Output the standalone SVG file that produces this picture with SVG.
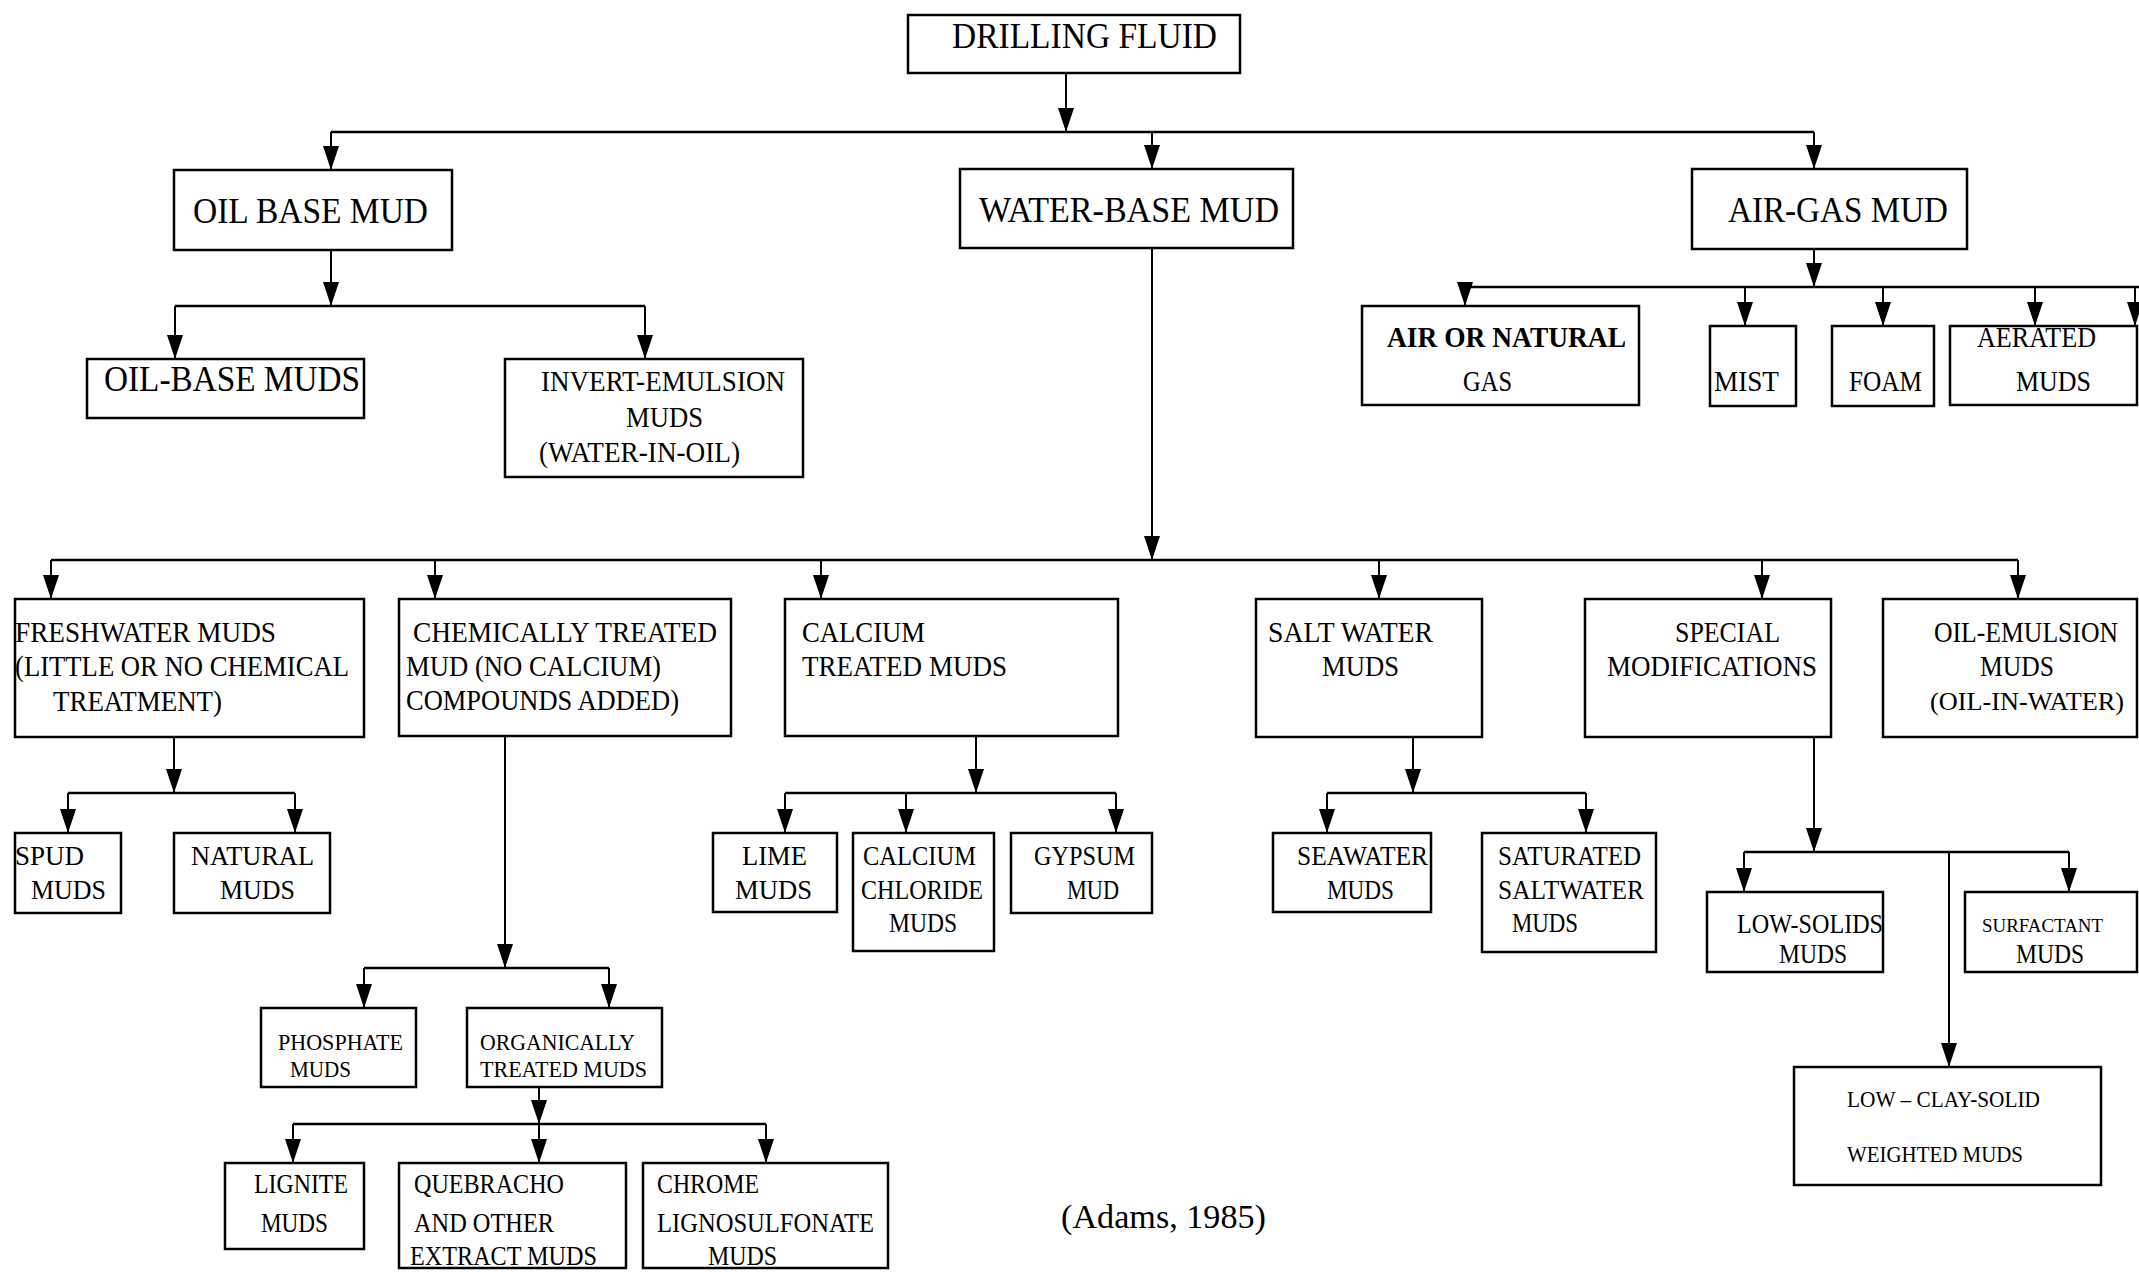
<svg xmlns="http://www.w3.org/2000/svg" width="2139" height="1272" viewBox="0 0 2139 1272">
<defs>
<marker id="ah" markerUnits="userSpaceOnUse" markerWidth="24" markerHeight="16" viewBox="0 0 24 16" refX="24" refY="8" orient="auto">
<path d="M0,0 L24,8 L0,16 z" fill="#000"/>
</marker>
</defs>
<style>
rect{fill:#fff;stroke:#000;stroke-width:2.5}
text{font-family:"Liberation Serif","Times New Roman",serif;fill:#000}
.a{stroke:#000;stroke-width:2;fill:none;marker-end:url(#ah)}
.b{stroke:#000;stroke-width:2.5;fill:none}
.f35{font-size:35px}.f36{font-size:36px}.f29{font-size:29px}.f27{font-size:27px}.f24{font-size:24px}.f19{font-size:19px}.f34{font-size:34px}
</style>
<rect width="2139" height="1272" style="fill:#fff;stroke:none"/>
<g id="connectors">
<path class="a" d="M1066,73 V132"/>
<path class="b" d="M331,132 H1814"/>
<path class="a" d="M331,132 V170"/>
<path class="a" d="M1152,132 V169"/>
<path class="a" d="M1814,132 V169"/>
<path class="a" d="M331,250 V306"/>
<path class="b" d="M175,306 H645"/>
<path class="a" d="M175,306 V359"/>
<path class="a" d="M645,306 V359"/>
<path class="a" d="M1152,248 V560"/>
<path class="b" d="M51,560 H2018"/>
<path class="a" d="M51,560 V599"/>
<path class="a" d="M435,560 V599"/>
<path class="a" d="M821,560 V599"/>
<path class="a" d="M1379,560 V599"/>
<path class="a" d="M1762,560 V599"/>
<path class="a" d="M2018,560 V599"/>
<path class="a" d="M1814,249 V287"/>
<path class="b" d="M1459,287 H2139"/>
<path class="a" d="M1465,287 V306"/>
<path class="a" d="M1745,287 V326"/>
<path class="a" d="M1883,287 V326"/>
<path class="a" d="M2035,287 V326"/>
<path class="a" d="M2135,287 V326"/>
<path class="a" d="M174,737 V793"/>
<path class="b" d="M68,793 H295"/>
<path class="a" d="M68,793 V833"/>
<path class="a" d="M295,793 V833"/>
<path class="a" d="M505,736 V968"/>
<path class="b" d="M364,968 H609"/>
<path class="a" d="M364,968 V1008"/>
<path class="a" d="M609,968 V1008"/>
<path class="a" d="M539,1087 V1124"/>
<path class="b" d="M293,1124 H766"/>
<path class="a" d="M293,1124 V1163"/>
<path class="a" d="M539,1124 V1163"/>
<path class="a" d="M766,1124 V1163"/>
<path class="a" d="M976,736 V793"/>
<path class="b" d="M785,793 H1116"/>
<path class="a" d="M785,793 V833"/>
<path class="a" d="M906,793 V833"/>
<path class="a" d="M1116,793 V833"/>
<path class="a" d="M1413,737 V793"/>
<path class="b" d="M1327,793 H1586"/>
<path class="a" d="M1327,793 V833"/>
<path class="a" d="M1586,793 V833"/>
<path class="a" d="M1814,737 V852"/>
<path class="b" d="M1744,852 H2069"/>
<path class="a" d="M1744,852 V892"/>
<path class="a" d="M2069,852 V892"/>
<path class="a" d="M1949,852 V1067"/>
</g>
<g id="drilling-fluid"><rect x="908" y="15" width="332" height="58"/><text class="f35" x="952" y="48" textLength="265" lengthAdjust="spacingAndGlyphs">DRILLING FLUID</text></g>
<g id="oil-base-mud"><rect x="174" y="170" width="278" height="80"/><text class="f35" x="193" y="223" textLength="235" lengthAdjust="spacingAndGlyphs">OIL BASE MUD</text></g>
<g id="water-base-mud"><rect x="960" y="169" width="333" height="79"/><text class="f35" x="979" y="222" textLength="300" lengthAdjust="spacingAndGlyphs">WATER-BASE MUD</text></g>
<g id="air-gas-mud"><rect x="1692" y="169" width="275" height="80"/><text class="f35" x="1728" y="222" textLength="220" lengthAdjust="spacingAndGlyphs">AIR-GAS MUD</text></g>
<g id="oil-base-muds"><rect x="87" y="359" width="277" height="59"/><text class="f36" x="104" y="391" textLength="256" lengthAdjust="spacingAndGlyphs">OIL-BASE MUDS</text></g>
<g id="invert-emulsion"><rect x="505" y="359" width="298" height="118"/><text class="f29" x="541" y="391" textLength="244" lengthAdjust="spacingAndGlyphs">INVERT-EMULSION</text><text class="f29" x="626" y="427" textLength="77" lengthAdjust="spacingAndGlyphs">MUDS</text><text class="f29" x="539" y="462" textLength="201" lengthAdjust="spacingAndGlyphs">(WATER-IN-OIL)</text></g>
<g id="air-or-natural-gas"><rect x="1362" y="306" width="277" height="99"/><text class="f29" x="1387" y="347" textLength="239" lengthAdjust="spacingAndGlyphs" style="font-weight:bold">AIR OR NATURAL</text><text class="f29" x="1463" y="391" textLength="49" lengthAdjust="spacingAndGlyphs">GAS</text></g>
<g id="mist"><rect x="1710" y="326" width="86" height="80"/><text class="f29" x="1714" y="391" textLength="65" lengthAdjust="spacingAndGlyphs">MIST</text></g>
<g id="foam"><rect x="1832" y="326" width="102" height="80"/><text class="f29" x="1849" y="391" textLength="73" lengthAdjust="spacingAndGlyphs">FOAM</text></g>
<g id="aerated-muds"><rect x="1950" y="326" width="187" height="79"/><text class="f29" x="1977" y="347" textLength="119" lengthAdjust="spacingAndGlyphs">AERATED</text><text class="f29" x="2016" y="391" textLength="75" lengthAdjust="spacingAndGlyphs">MUDS</text></g>
<g id="freshwater-muds"><rect x="15" y="599" width="349" height="138"/><text class="f29" x="15" y="642" textLength="261" lengthAdjust="spacingAndGlyphs">FRESHWATER MUDS</text><text class="f29" x="15" y="676" textLength="334" lengthAdjust="spacingAndGlyphs">(LITTLE OR NO CHEMICAL</text><text class="f29" x="53" y="711" textLength="169" lengthAdjust="spacingAndGlyphs">TREATMENT)</text></g>
<g id="chemically-treated"><rect x="399" y="599" width="332" height="137"/><text class="f29" x="413" y="642" textLength="304" lengthAdjust="spacingAndGlyphs">CHEMICALLY TREATED</text><text class="f29" x="406" y="676" textLength="255" lengthAdjust="spacingAndGlyphs">MUD (NO CALCIUM)</text><text class="f29" x="406" y="710" textLength="273" lengthAdjust="spacingAndGlyphs">COMPOUNDS ADDED)</text></g>
<g id="calcium-treated"><rect x="785" y="599" width="333" height="137"/><text class="f29" x="802" y="642" textLength="123" lengthAdjust="spacingAndGlyphs">CALCIUM</text><text class="f29" x="802" y="676" textLength="205" lengthAdjust="spacingAndGlyphs">TREATED MUDS</text></g>
<g id="salt-water"><rect x="1256" y="599" width="226" height="138"/><text class="f29" x="1268" y="642" textLength="165" lengthAdjust="spacingAndGlyphs">SALT WATER</text><text class="f29" x="1322" y="676" textLength="77" lengthAdjust="spacingAndGlyphs">MUDS</text></g>
<g id="special-modifications"><rect x="1585" y="599" width="246" height="138"/><text class="f29" x="1675" y="642" textLength="105" lengthAdjust="spacingAndGlyphs">SPECIAL</text><text class="f29" x="1607" y="676" textLength="210" lengthAdjust="spacingAndGlyphs">MODIFICATIONS</text></g>
<g id="oil-emulsion"><rect x="1883" y="599" width="254" height="138"/><text class="f29" x="1934" y="642" textLength="184" lengthAdjust="spacingAndGlyphs">OIL-EMULSION</text><text class="f29" x="1980" y="676" textLength="74" lengthAdjust="spacingAndGlyphs">MUDS</text><text x="1930" y="710" textLength="194" lengthAdjust="spacingAndGlyphs" style="font-size:25px">(OIL-IN-WATER)</text></g>
<g id="spud-muds"><rect x="15" y="833" width="106" height="80"/><text class="f27" x="15" y="865" textLength="69" lengthAdjust="spacingAndGlyphs">SPUD</text><text class="f27" x="31" y="899" textLength="75" lengthAdjust="spacingAndGlyphs">MUDS</text></g>
<g id="natural-muds"><rect x="174" y="833" width="156" height="80"/><text class="f27" x="191" y="865" textLength="123" lengthAdjust="spacingAndGlyphs">NATURAL</text><text class="f27" x="220" y="899" textLength="75" lengthAdjust="spacingAndGlyphs">MUDS</text></g>
<g id="lime-muds"><rect x="713" y="833" width="124" height="79"/><text class="f27" x="742" y="865" textLength="65" lengthAdjust="spacingAndGlyphs">LIME</text><text class="f27" x="735" y="899" textLength="77" lengthAdjust="spacingAndGlyphs">MUDS</text></g>
<g id="calcium-chloride-muds"><rect x="853" y="833" width="141" height="118"/><text class="f27" x="863" y="865" textLength="113" lengthAdjust="spacingAndGlyphs">CALCIUM</text><text class="f27" x="861" y="899" textLength="122" lengthAdjust="spacingAndGlyphs">CHLORIDE</text><text class="f27" x="889" y="932" textLength="68" lengthAdjust="spacingAndGlyphs">MUDS</text></g>
<g id="gypsum-mud"><rect x="1011" y="833" width="141" height="80"/><text class="f27" x="1034" y="865" textLength="101" lengthAdjust="spacingAndGlyphs">GYPSUM</text><text class="f27" x="1067" y="899" textLength="52" lengthAdjust="spacingAndGlyphs">MUD</text></g>
<g id="seawater-muds"><rect x="1273" y="833" width="158" height="79"/><text class="f27" x="1297" y="865" textLength="131" lengthAdjust="spacingAndGlyphs">SEAWATER</text><text class="f27" x="1327" y="899" textLength="67" lengthAdjust="spacingAndGlyphs">MUDS</text></g>
<g id="saturated-saltwater-muds"><rect x="1482" y="833" width="174" height="119"/><text class="f27" x="1498" y="865" textLength="143" lengthAdjust="spacingAndGlyphs">SATURATED</text><text class="f27" x="1498" y="899" textLength="146" lengthAdjust="spacingAndGlyphs">SALTWATER</text><text class="f27" x="1512" y="932" textLength="66" lengthAdjust="spacingAndGlyphs">MUDS</text></g>
<g id="low-solids-muds"><rect x="1707" y="892" width="176" height="80"/><text class="f27" x="1737" y="933" textLength="146" lengthAdjust="spacingAndGlyphs">LOW-SOLIDS</text><text class="f27" x="1779" y="963" textLength="68" lengthAdjust="spacingAndGlyphs">MUDS</text></g>
<g id="surfactant-muds"><rect x="1965" y="892" width="172" height="80"/><text class="f19" x="1982" y="932" textLength="121" lengthAdjust="spacingAndGlyphs">SURFACTANT</text><text class="f27" x="2016" y="963" textLength="68" lengthAdjust="spacingAndGlyphs">MUDS</text></g>
<g id="low-clay-solid"><rect x="1794" y="1067" width="307" height="118"/><text class="f24" x="1847" y="1107" textLength="193" lengthAdjust="spacingAndGlyphs">LOW – CLAY-SOLID</text><text class="f24" x="1847" y="1162" textLength="176" lengthAdjust="spacingAndGlyphs">WEIGHTED MUDS</text></g>
<g id="phosphate-muds"><rect x="261" y="1008" width="155" height="79"/><text class="f24" x="278" y="1050" textLength="125" lengthAdjust="spacingAndGlyphs">PHOSPHATE</text><text class="f24" x="290" y="1077" textLength="61" lengthAdjust="spacingAndGlyphs">MUDS</text></g>
<g id="organically-treated"><rect x="467" y="1008" width="195" height="79"/><text class="f24" x="480" y="1050" textLength="155" lengthAdjust="spacingAndGlyphs">ORGANICALLY</text><text class="f24" x="480" y="1077" textLength="167" lengthAdjust="spacingAndGlyphs">TREATED MUDS</text></g>
<g id="lignite-muds"><rect x="225" y="1163" width="139" height="86"/><text class="f27" x="254" y="1193" textLength="94" lengthAdjust="spacingAndGlyphs">LIGNITE</text><text class="f27" x="261" y="1232" textLength="67" lengthAdjust="spacingAndGlyphs">MUDS</text></g>
<g id="quebracho"><rect x="399" y="1163" width="227" height="105"/><text class="f27" x="414" y="1193" textLength="150" lengthAdjust="spacingAndGlyphs">QUEBRACHO</text><text class="f27" x="414" y="1232" textLength="140" lengthAdjust="spacingAndGlyphs">AND OTHER</text><text class="f27" x="410" y="1265" textLength="187" lengthAdjust="spacingAndGlyphs">EXTRACT MUDS</text></g>
<g id="chrome-lignosulfonate"><rect x="643" y="1163" width="245" height="105"/><text class="f27" x="657" y="1193" textLength="102" lengthAdjust="spacingAndGlyphs">CHROME</text><text class="f27" x="657" y="1232" textLength="217" lengthAdjust="spacingAndGlyphs">LIGNOSULFONATE</text><text class="f27" x="708" y="1265" textLength="69" lengthAdjust="spacingAndGlyphs">MUDS</text></g>
<text class="f34" x="1061" y="1228" textLength="205" lengthAdjust="spacingAndGlyphs">(Adams, 1985)</text>
</svg>
